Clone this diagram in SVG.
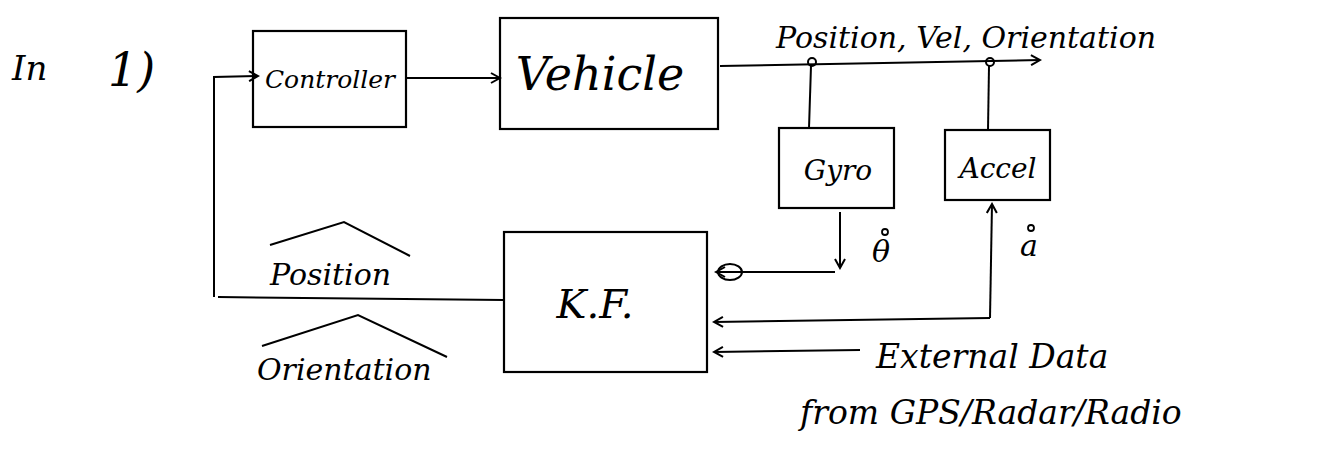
<svg xmlns="http://www.w3.org/2000/svg" width="1322" height="452" viewBox="0 0 1322 452">
<style>
.box{fill:none;stroke:#000;stroke-width:2.2}
.ln{fill:none;stroke:#000;stroke-width:2}
.t{font-family:"DejaVu Serif","Liberation Serif",serif;font-style:italic;fill:#000}
.dot{fill:none;stroke:#000;stroke-width:1.8}
</style>
<defs>
<marker id="ah" markerWidth="12" markerHeight="12" refX="10" refY="6" orient="auto" markerUnits="userSpaceOnUse">
<path d="M1,1 L10,6 L1,11" fill="none" stroke="#000" stroke-width="2"/>
</marker>
</defs>
<rect width="1322" height="452" fill="#fff"/>
<g id="title">
<text class="t" x="12" y="80" font-size="34">In</text>
<text class="t" x="108" y="86" font-size="46">1)</text>
</g>
<g id="controller">
<rect class="box" x="253" y="31" width="153" height="96"/>
<text class="t" x="330" y="88" font-size="25" text-anchor="middle">Controller</text>
</g>
<g id="vehicle">
<rect class="box" x="500" y="18" width="218" height="111"/>
<text class="t" x="600" y="90" font-size="46" text-anchor="middle">Vehicle</text>
</g>
<g id="gyro">
<rect class="box" x="779" y="128" width="115" height="80"/>
<text class="t" x="838" y="180" font-size="28" text-anchor="middle">Gyro</text>
</g>
<g id="accel">
<rect class="box" x="945" y="130" width="105" height="70"/>
<text class="t" x="998" y="178" font-size="28" text-anchor="middle">Accel</text>
</g>
<g id="kf">
<rect class="box" x="504" y="232" width="203" height="140"/>
<text class="t" x="595" y="318" font-size="40" text-anchor="middle">K.F.</text>
</g>
<g id="labels">
<text class="t" x="872" y="262" font-size="30">θ</text>
<circle class="dot" cx="885" cy="232" r="3"/>
<text class="t" x="1020" y="256" font-size="30">a</text>
<circle class="dot" cx="1031" cy="228" r="3"/>
<text class="t" x="776" y="48" font-size="30">Position, Vel, Orientation</text>
<text class="t" x="270" y="285" font-size="30">Position</text>
<path class="ln" d="M270,245 L344,222 L410,256"/>
<text class="t" x="257" y="380" font-size="30">Orientation</text>
<path class="ln" d="M262,346 L358,315 L447,357"/>
<text class="t" x="876" y="368" font-size="33">External Data</text>
<text class="t" x="800" y="424" font-size="33">from GPS/Radar/Radio</text>
</g>
<g id="connectors">
<path class="ln" d="M214,297 L214,77 L258,76" marker-end="url(#ah)"/>
<path class="ln" d="M406,78 L500,78" marker-end="url(#ah)"/>
<path class="ln" d="M504,300 L218,297"/>
<path class="ln" d="M720,66 L1040,60" marker-end="url(#ah)"/>
<circle cx="812" cy="62" r="4" fill="none" stroke="#000" stroke-width="2"/>
<circle cx="990" cy="62" r="4" fill="none" stroke="#000" stroke-width="2"/>
<path class="ln" d="M811,66 L809,128"/>
<path class="ln" d="M989,66 L988,130"/>
<path class="ln" d="M840,212 L840,268" marker-end="url(#ah)"/>
<path class="ln" d="M835,272 L716,272" marker-end="url(#ah)"/>
<ellipse cx="730" cy="272" rx="12" ry="8" fill="none" stroke="#000" stroke-width="2"/>
<path class="ln" d="M990,318 L992,204" marker-end="url(#ah)"/>
<path class="ln" d="M990,318 L714,322" marker-end="url(#ah)"/>
<path class="ln" d="M860,350 L714,352" marker-end="url(#ah)"/>
</g>
</svg>
